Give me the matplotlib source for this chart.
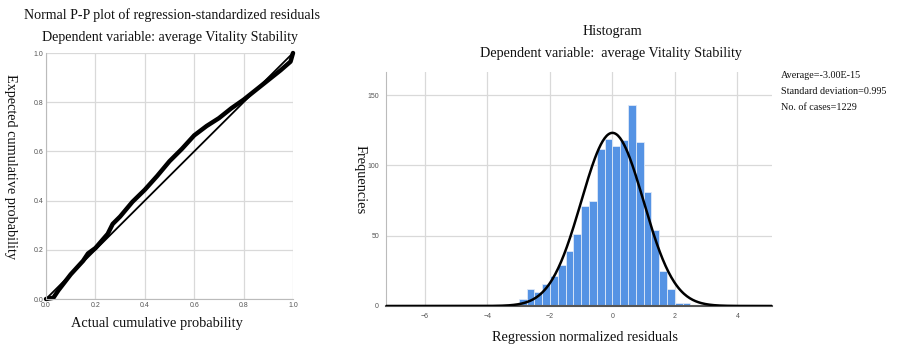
import numpy as np
import matplotlib
matplotlib.use('Agg')
import matplotlib.pyplot as plt

plt.rcParams['font.family'] = 'Liberation Serif'

# P-P plot values
pp_actual = [0.0, 0.03, 0.05, 0.10, 0.15, 0.17, 0.20, 0.25, 0.27, 0.30, 0.35, 0.40, 0.45,
             0.50, 0.55, 0.60, 0.65, 0.70, 0.75, 0.80, 0.85, 0.90, 0.95, 0.99, 1.0]
pp_expected = [0.0, 0.005, 0.035, 0.10, 0.155, 0.185, 0.207, 0.265, 0.305, 0.335, 0.395, 0.444, 0.50,
               0.56, 0.61, 0.665, 0.703, 0.735, 0.775, 0.81, 0.85, 0.89, 0.93, 0.965, 1.0]

# histogram counts, bin width 0.25
bin_left = [-4.75, -3.0, -2.75, -2.5, -2.25, -2.0, -1.75, -1.5, -1.25, -1.0, -0.75, -0.5, -0.25,
            0.0, 0.25, 0.5, 0.75, 1.0, 1.25, 1.5, 1.75, 2.0, 2.25]
counts = [1, 5, 12, 10, 16, 21, 29, 39, 51, 71, 75, 112, 119,
          114, 118, 143, 117, 81, 54, 25, 12, 2, 2]
bin_w = 0.25
mean_res = -3.00e-15
sd_res = 0.995
n_cases = 1229

fig = plt.figure(figsize=(8.98, 3.48), dpi=100)
W, H = 898, 348

def tick_style(ax):
    ax.tick_params(length=0, labelsize=5, labelcolor='#555555', pad=2)
    for lab in ax.get_xticklabels() + ax.get_yticklabels():
        lab.set_fontfamily('Liberation Sans')

# ---------- left: P-P plot
ax1 = fig.add_axes([46/W, 1-299/H, 247/W, 246/H])
ax1.set_xlim(0, 1)
ax1.set_ylim(0, 1)
ticks = [0.0, 0.2, 0.4, 0.6, 0.8, 1.0]
ax1.set_xticks(ticks)
ax1.set_yticks(ticks)
ax1.set_xticklabels(['%.1f' % t for t in ticks])
ax1.set_yticklabels(['%.1f' % t for t in ticks])
ax1.grid(True, color='#d9d9d9', lw=0.9)
ax1.set_axisbelow(True)
for s in ['top', 'right']:
    ax1.spines[s].set_visible(False)
for s in ['left', 'bottom']:
    ax1.spines[s].set_color('#bbbbbb')
ax1.plot([0, 1], [0, 1], color='black', lw=1.3, clip_on=False)
ax1.plot(pp_actual, pp_expected, color='black', lw=3.2, solid_capstyle='round', clip_on=False)
tick_style(ax1)
fig.text(172/W, 1-15/H, 'Normal P-P plot of regression-standardized residuals',
         ha='center', va='center', fontsize=10.1, color='#111111')
fig.text(170/W, 1-37/H, 'Dependent variable: average Vitality Stability',
         ha='center', va='center', fontsize=10.1, color='#111111')
fig.text(157/W, 1-323/H, 'Actual cumulative probability',
         ha='center', va='center', fontsize=10.4, color='#111111')
fig.text(10/W, 1-167/H, 'Expected cumulative probability', rotation=-90,
         ha='center', va='center', fontsize=10.3, color='#111111')

# ---------- right: histogram
ax2 = fig.add_axes([386/W, 1-306/H, 386/W, 234/H])
ax2.bar(bin_left, counts, width=bin_w, align='edge', color='#5593e4',
        edgecolor='#dfe9f7', linewidth=0.6, zorder=2)
xs = np.linspace(-7.25, 5.11, 400)
curve = n_cases * bin_w / (sd_res * np.sqrt(2 * np.pi)) * np.exp(-0.5 * ((xs - mean_res) / sd_res) ** 2)
ax2.plot(xs, curve, color='black', lw=1.8, zorder=3)
ax2.set_xlim(-7.25, 5.11)
ax2.set_ylim(0, 166.5)
ax2.set_xticks([-6, -4, -2, 0, 2, 4])
ax2.set_yticks([0, 50, 100, 150])
ax2.grid(True, color='#d9d9d9', lw=0.9)
ax2.set_axisbelow(True)
for s in ['top', 'right']:
    ax2.spines[s].set_visible(False)
ax2.spines['left'].set_color('#bbbbbb')
ax2.spines['bottom'].set_color('#555555')
ax2.spines['bottom'].set_linewidth(1.5)
tick_style(ax2)
ax2.tick_params(axis='x', pad=5)
ax2.tick_params(axis='y', pad=5)
fig.text(612/W, 1-32/H, 'Histogram', ha='center', va='center', fontsize=10.2, color='#111111')
fig.text(611/W, 1-53/H, 'Dependent variable:  average Vitality Stability',
         ha='center', va='center', fontsize=10.2, color='#111111')
fig.text(585/W, 1-337/H, 'Regression normalized residuals',
         ha='center', va='center', fontsize=10.4, color='#111111')
fig.text(360/W, 1-180/H, 'Frequencies', rotation=-90,
         ha='center', va='center', fontsize=10.4, color='#111111')
fig.text(781/W, 1-75/H, 'Average=-3.00E-15', ha='left', va='center', fontsize=7.3, color='#111111')
fig.text(781/W, 1-91/H, 'Standard deviation=0.995', ha='left', va='center', fontsize=7.3, color='#111111')
fig.text(781/W, 1-107/H, 'No. of cases=%d' % n_cases, ha='left', va='center', fontsize=7.3, color='#111111')

fig.savefig('out.png', dpi=100)
